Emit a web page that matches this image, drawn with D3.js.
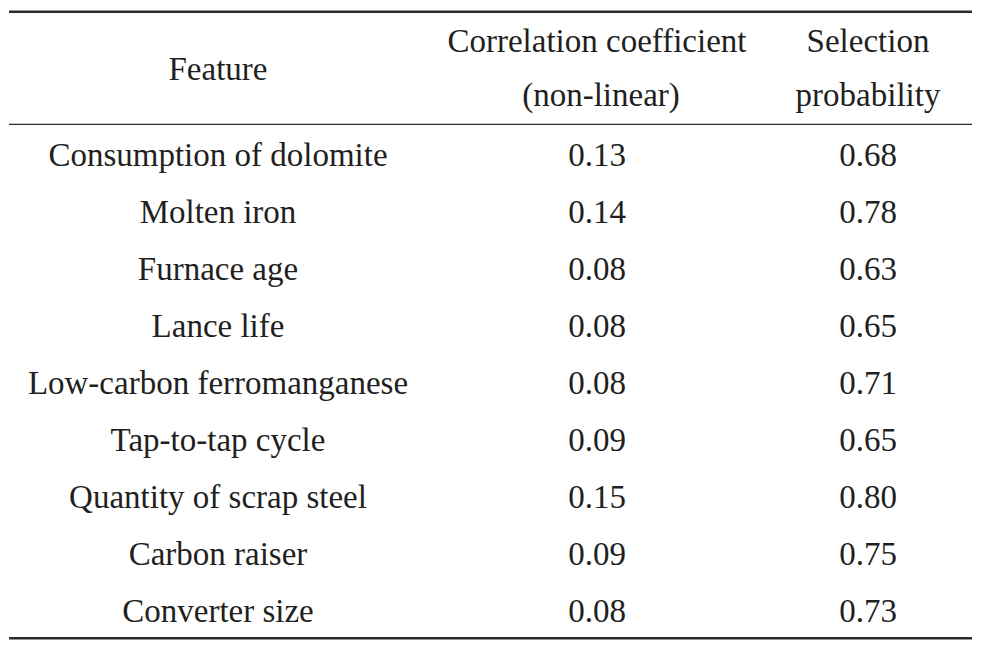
<!DOCTYPE html>
<html lang="en">
  <meta charset="utf-8">
  <style>
    body { margin: 0; background: #fff; }
    svg text { font-family: "Liberation Serif", "Times New Roman", serif; fill: #231f20; }
  </style>
  <body>
    <svg width="985" height="654"></svg>

    <script src="https://d3js.org/d3.v7.min.js"></script>
    <script>
    // table contents
    let features = ['Consumption of dolomite', 'Molten iron', 'Furnace age', 'Lance life',
                    'Low-carbon ferromanganese', 'Tap-to-tap cycle', 'Quantity of scrap steel',
                    'Carbon raiser', 'Converter size']
    let corrValues = ['0.13', '0.14', '0.08', '0.08', '0.08', '0.09', '0.15', '0.09', '0.08']
    let selValues  = ['0.68', '0.78', '0.63', '0.65', '0.71', '0.65', '0.80', '0.75', '0.73']
    let columns = ['feature', 'corr', 'sel']
    let headerLines = {
      feature: ['Feature'],
      corr: ['Correlation coefficient', '(non-linear)'],
      sel: ['Selection', 'probability']
    }

    let fontSize = 33
    let svg = d3.select('svg')

    // column centres
    let x = d3.scaleOrdinal()
              .domain(columns)
              .range([218, 597, 868])

    // one band per row
    let y = d3.scaleBand()
              .domain(features)
              .range([127, 640])

    let rows = features.map((f, i) => ({ feature: f, corr: corrValues[i], sel: selValues[i] }))

    // rules
    let rules = [
      { y: 11.8, w: 2.6 },
      { y: 124.4, w: 1.4 },
      { y: 638.3, w: 2.6 }
    ]
    svg.append('g').selectAll('line')
       .data(rules).enter()
       .append('line')
       .attr('x1', 9)
       .attr('x2', 972)
       .attr('y1', d => d.y)
       .attr('y2', d => d.y)
       .attr('stroke', '#2b2b2b')
       .attr('stroke-width', d => d.w)

    // header
    let header = svg.append('g')
    columns.forEach(c => {
      let lines = headerLines[c]
      let baselines = lines.length === 1 ? [80] : [52, 106]
      header.selectAll(null)
        .data(lines).enter()
        .append('text')
        .attr('x', (d, i) => x(c) + (c === 'corr' && i === 1 ? 4 : 0))
        .attr('y', (d, i) => baselines[i])
        .attr('text-anchor', 'middle')
        .attr('font-size', fontSize + 'px')
        .text(d => d)
    })

    // body
    let body = svg.append('g')
    columns.forEach(c => {
      body.selectAll(null)
        .data(rows).enter()
        .append('text')
        .attr('x', x(c))
        .attr('y', d => y(d.feature) + y.bandwidth() / 2)
        .attr('dy', '0.33em')
        .attr('text-anchor', 'middle')
        .attr('font-size', fontSize + 'px')
        .text(d => d[c])
    })
    </script>
</body>
</html>
